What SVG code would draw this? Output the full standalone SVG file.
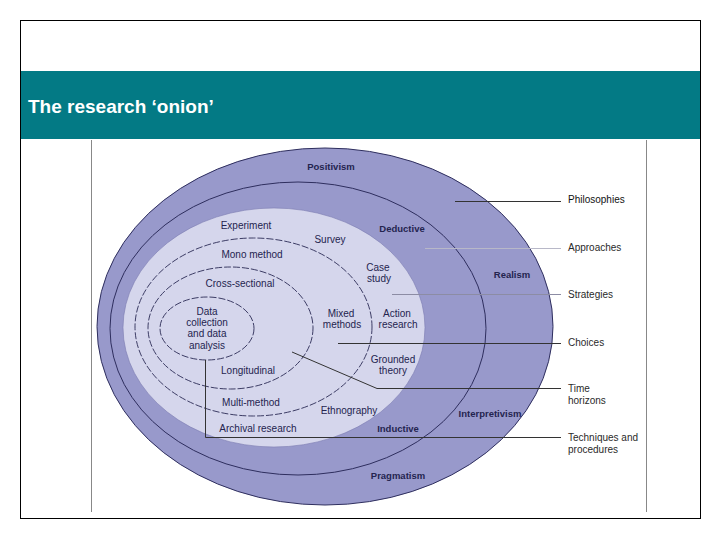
<svg xmlns="http://www.w3.org/2000/svg" width="720" height="540" viewBox="0 0 720 540">
<style>
.lbl{font-family:"Liberation Sans",Arial,sans-serif;font-size:10px;fill:#24244f;text-anchor:middle}
.b{font-weight:bold;font-size:9.5px}
.side{font-family:"Liberation Sans",Arial,sans-serif;font-size:10px;fill:#2a2a2a}
.dash{fill:none;stroke:#2a2a55;stroke-width:0.9;stroke-dasharray:7 2}
.lead{fill:none;stroke-width:1}
</style>
<rect x="0" y="0" width="720" height="540" fill="#fff"/>
<rect x="20.5" y="20.5" width="680" height="498" fill="#fff" stroke="#000" stroke-width="1"/>
<rect x="21" y="71" width="679" height="68" fill="#037a85"/>
<text x="28" y="113" font-family="'Liberation Sans',Arial,sans-serif" font-size="19" font-weight="bold" fill="#fff">The research ‘onion’</text>
<path d="M91.5 140 V512 M646.5 140 V512" stroke="#888" stroke-width="1" fill="none"/>
<g id="philosophies">
<ellipse cx="325" cy="326.5" rx="228" ry="178.5" fill="#9899cb" stroke="#2e2e5e" stroke-width="1"/>
<text class="lbl b" x="331" y="170">Positivism</text>
<text class="lbl b" x="512" y="278">Realism</text>
<text class="lbl b" x="490" y="417">Interpretivism</text>
<text class="lbl b" x="398" y="479">Pragmatism</text>
</g>
<g id="approaches">
<ellipse cx="298" cy="328.5" rx="188" ry="146.5" fill="#9899cb" stroke="#2e2e5e" stroke-width="1"/>
<text class="lbl b" x="402" y="232">Deductive</text>
<text class="lbl b" x="398" y="432">Inductive</text>
</g>
<g id="strategies">
<ellipse cx="274" cy="327.5" rx="151" ry="119.5" fill="#d5d6ec" stroke="#7a7bb0" stroke-width="0.6"/>
<text class="lbl" x="246" y="229">Experiment</text>
<text class="lbl" x="330" y="243">Survey</text>
<text class="lbl" x="378" y="271">Case</text>
<text class="lbl" x="379" y="282">study</text>
<text class="lbl" x="397" y="317">Action</text>
<text class="lbl" x="398" y="328">research</text>
<text class="lbl" x="393" y="363">Grounded</text>
<text class="lbl" x="393" y="374">theory</text>
<text class="lbl" x="349" y="414">Ethnography</text>
<text class="lbl" x="258" y="432">Archival research</text>
</g>
<g id="choices">
<ellipse class="dash" cx="253.5" cy="327" rx="118.5" ry="89"/>
<text class="lbl" x="252" y="258">Mono method</text>
<text class="lbl" x="341" y="317">Mixed</text>
<text class="lbl" x="342" y="328">methods</text>
<text class="lbl" x="251" y="406">Multi-method</text>
</g>
<g id="time-horizons">
<ellipse class="dash" cx="230.5" cy="328" rx="82.5" ry="61"/>
<text class="lbl" x="240" y="287">Cross-sectional</text>
<text class="lbl" x="248" y="374">Longitudinal</text>
</g>
<g id="techniques">
<ellipse class="dash" cx="207" cy="328.5" rx="47" ry="31.5"/>
<text class="lbl" x="207" y="315">Data</text>
<text class="lbl" x="207" y="326">collection</text>
<text class="lbl" x="207" y="337">and data</text>
<text class="lbl" x="207" y="349">analysis</text>
</g>
<g id="connectors">
<path class="lead" style="stroke:#333" d="M455 201.5 H561"/>
<path class="lead" style="stroke:#b8b8c8" d="M425 248.5 H561"/>
<path class="lead" style="stroke:#8c8ca4" d="M392 294.5 H561"/>
<path class="lead" style="stroke:#333" d="M338 343.5 H561"/>
<path class="lead" style="stroke:#333" d="M292 352 L377 388.5 H561"/>
<path class="lead" style="stroke:#333" d="M205.5 360 V437.5 H561"/>
</g>
<g id="side-labels">
<text class="side" x="568" y="203" style="fill:#111">Philosophies</text>
<text class="side" x="568" y="251">Approaches</text>
<text class="side" x="568" y="298">Strategies</text>
<text class="side" x="568" y="346">Choices</text>
<text class="side" x="568" y="392">Time</text>
<text class="side" x="568" y="404">horizons</text>
<text class="side" x="568" y="441">Techniques and</text>
<text class="side" x="568" y="453">procedures</text>
</g>
</svg>
